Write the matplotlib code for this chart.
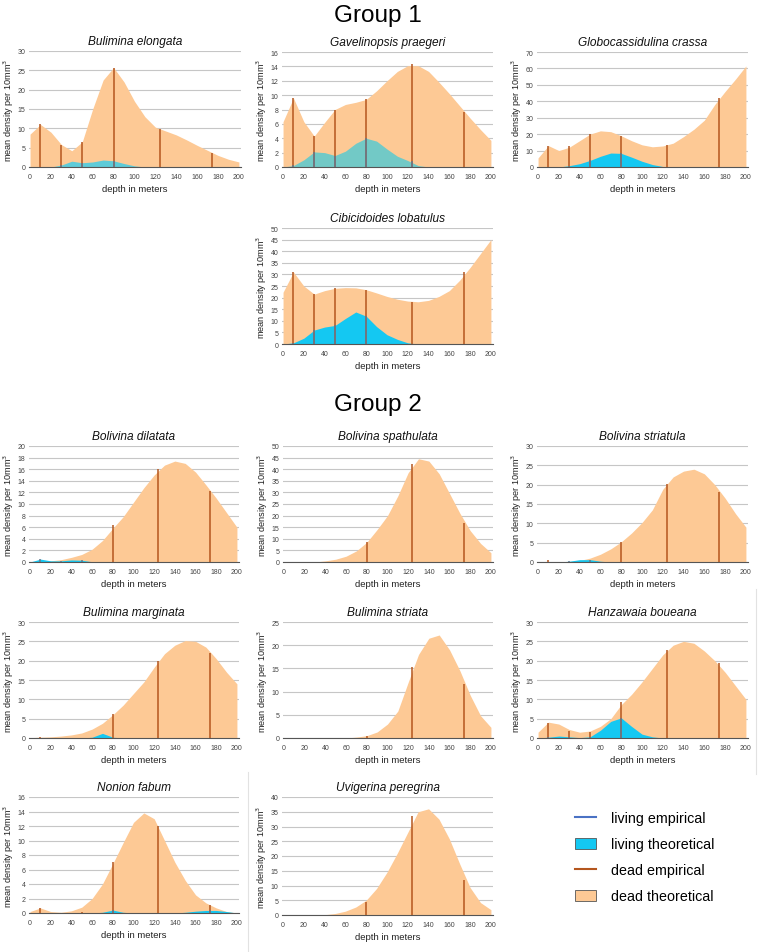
import matplotlib
matplotlib.use('Agg')
import matplotlib.pyplot as plt
from matplotlib.lines import Line2D
from matplotlib.patches import Patch

#################################
# Data
#################################
DEPTH = list(range(0, 201, 10))
SAMPLE_DEPTHS = [10, 30, 50, 80, 124, 174]

species = ['Bulimina elongata', 'Gavelinopsis praegeri', 'Globocassidulina crassa',
           'Cibicidoides lobatulus',
           'Bolivina dilatata', 'Bolivina spathulata', 'Bolivina striatula',
           'Bulimina marginata', 'Bulimina striata', 'Hanzawaia boueana',
           'Nonion fabum', 'Uvigerina peregrina']

y_max = [30, 16, 70, 50, 20, 50, 30, 30, 25, 30, 16, 40]
y_step = [5, 2, 10, 5, 2, 5, 5, 5, 5, 5, 2, 5]

# dead theoretical curves, one value per 10 m
elongata_dead = [8.5, 11, 9, 5.8, 4.2, 6.5, 15, 22.5, 25.7, 22, 17, 13, 10.3, 9.3, 8.3, 7, 5.6, 4.3, 3, 2, 1.3]
praegeri_dead = [6.3, 9.6, 6.3, 4.3, 6.2, 8, 8.7, 9, 9.4, 10.6, 12, 13.3, 14.1, 14.1, 13.3, 11.8, 10.2, 8.5, 6.8, 5.2, 3.7]
crassa_dead = [5.5, 13, 10, 12, 16, 20, 22, 21.5, 19, 16, 13.5, 12.3, 12.8, 14.5, 18.5, 23, 28.5, 38, 46, 53.5, 61.5]
lobatulus_dead = [22.3, 31, 25, 21.5, 23, 24, 24.3, 24.2, 23.4, 22, 20.5, 19.3, 18.5, 18.2, 18.8, 20.5, 23, 27.5, 33, 39, 45]
dilatata_dead = [0, 0.1, 0.2, 0.4, 0.8, 1.3, 2.2, 3.7, 5.8, 7.8, 10.3, 12.8, 15, 16.7, 17.4, 17, 15.5, 13.3, 11, 8.5, 6]
spathulata_dead = [0, 0, 0, 0, 0.5, 1.2, 2.5, 4.8, 8.5, 14, 20, 28.5, 38.5, 44.5, 43.5, 38, 29.5, 21, 13.5, 8, 4]
striatula_dead = [0, 0, 0, 0.1, 0.4, 1, 2, 3.4, 5.2, 7.5, 10.2, 13.5, 18.8, 22, 23.5, 24, 22.8, 20, 16.5, 12.5, 9]
marginata_dead = [0.1, 0.2, 0.3, 0.5, 0.8, 1.3, 2.3, 3.8, 6, 8.5, 11.5, 14.5, 18.3, 21.8, 24, 25.2, 25, 23.5, 20.5, 17, 14]
striata_dead = [0, 0, 0, 0, 0, 0, 0, 0.2, 0.5, 1.3, 3, 5.8, 12, 18, 21.5, 22.2, 19, 14.5, 9.2, 4.8, 2.3]
boueana_dead = [1.5, 4.1, 3.6, 2.2, 1.5, 1.8, 3, 5, 8.6, 11.3, 14.5, 18, 21.5, 24, 25, 24.5, 22.5, 20, 17, 13.5, 10]
fabum_dead = [0.2, 0.7, 0.2, 0.1, 0.3, 0.8, 2, 4, 6.8, 9.7, 12.5, 13.8, 13, 10, 7, 4.5, 2.5, 1.4, 0.7, 0.2, 0]
peregrina_dead = [0, 0, 0, 0, 0.1, 0.5, 1.3, 2.7, 5, 9, 14.5, 21, 28, 35, 36, 32.5, 25.8, 17.3, 9.3, 4.2, 1.8]

# living theoretical curves, one value per 10 m
elongata_living = [0, 0, 0, 0.5, 1.5, 1.1, 1.3, 1.8, 1.6, 0.9, 0.3, 0, 0, 0, 0, 0, 0, 0, 0, 0, 0]
praegeri_living = [0, 0.2, 1, 2.1, 2, 1.6, 2.2, 3.3, 4, 3.6, 2.5, 1.5, 0.9, 0.2, 0, 0, 0, 0, 0, 0, 0]
crassa_living = [0, 0, 0, 0.8, 2, 4, 6.5, 8.5, 8.3, 6, 3.5, 1.5, 0.3, 0, 0, 0, 0, 0, 0, 0, 0]
lobatulus_living = [0, 0.5, 2.5, 6, 7.3, 8, 11, 13.8, 12, 7.5, 4, 2, 0.5, 0, 0, 0, 0, 0, 0, 0, 0]
dilatata_living = [0, 0.5, 0.2, 0.2, 0.35, 0.3, 0.05, 0, 0, 0, 0, 0, 0, 0, 0, 0, 0, 0, 0, 0, 0]
spathulata_living = [0] * 21
striatula_living = [0, 0, 0, 0.2, 0.6, 0.6, 0.2, 0, 0, 0, 0, 0, 0, 0, 0, 0, 0, 0, 0, 0, 0]
marginata_living = [0, 0, 0, 0, 0, 0, 0.2, 1.2, 0.2, 0, 0, 0, 0, 0, 0, 0, 0, 0, 0, 0, 0]
striata_living = [0] * 21
boueana_living = [0, 0.2, 0.5, 0.3, 0.1, 0.3, 2, 4.3, 5.2, 3, 1, 0.3, 0, 0, 0, 0, 0, 0, 0, 0, 0]
fabum_living = [0, 0, 0, 0, 0, 0, 0, 0.1, 0.4, 0.1, 0, 0, 0, 0, 0, 0.1, 0.25, 0.35, 0.35, 0.2, 0]
peregrina_living = [0] * 21

# empirical values at the sample depths
elongata_dead_emp = [11, 5.7, 6.5, 25.7, 9.7, 3.6]
praegeri_dead_emp = [9.6, 4.3, 8, 9.4, 14.3, 7.7]
crassa_dead_emp = [13, 12.5, 20, 19, 13.5, 42]
lobatulus_dead_emp = [31, 21.5, 24, 23.4, 18.2, 31]
dilatata_dead_emp = [0, 0, 0, 6.3, 16, 12.2]
spathulata_dead_emp = [0, 0, 0, 8.5, 42.3, 17]
striatula_dead_emp = [0.4, 0, 0, 5.2, 20.2, 18.2]
marginata_dead_emp = [0.3, 0, 0, 6.3, 20, 22]
striata_dead_emp = [0, 0, 0, 0.5, 15.3, 11.7]
boueana_dead_emp = [4, 1.9, 1.5, 9.2, 22.8, 19.3]
fabum_dead_emp = [0.7, 0, 0.2, 7, 12, 1.1]
peregrina_dead_emp = [0, 0, 0, 4.3, 33.5, 12]

elongata_living_emp = [0, 0.4, 1.1, 1.6, 0, 0]
praegeri_living_emp = [0.3, 2.1, 1.6, 4, 0.9, 0]
crassa_living_emp = [0, 0.5, 4, 8.3, 0, 0]
lobatulus_living_emp = [0.5, 6, 8, 12, 0, 0]
dilatata_living_emp = [0.5, 0.2, 0.3, 0, 0, 0]
spathulata_living_emp = [0] * 6
striatula_living_emp = [0, 0.3, 0.6, 0, 0, 0]
marginata_living_emp = [0] * 6
striata_living_emp = [0] * 6
boueana_living_emp = [0.2, 0.3, 0.3, 5.2, 0, 0]
fabum_living_emp = [0, 0, 0, 0.4, 0, 0.35]
peregrina_living_emp = [0] * 6

dead_curves = [elongata_dead, praegeri_dead, crassa_dead, lobatulus_dead, dilatata_dead,
               spathulata_dead, striatula_dead, marginata_dead, striata_dead, boueana_dead,
               fabum_dead, peregrina_dead]
living_curves = [elongata_living, praegeri_living, crassa_living, lobatulus_living, dilatata_living,
                 spathulata_living, striatula_living, marginata_living, striata_living,
                 boueana_living, fabum_living, peregrina_living]
dead_emps = [elongata_dead_emp, praegeri_dead_emp, crassa_dead_emp, lobatulus_dead_emp,
             dilatata_dead_emp, spathulata_dead_emp, striatula_dead_emp, marginata_dead_emp,
             striata_dead_emp, boueana_dead_emp, fabum_dead_emp, peregrina_dead_emp]
living_emps = [elongata_living_emp, praegeri_living_emp, crassa_living_emp, lobatulus_living_emp,
               dilatata_living_emp, spathulata_living_emp, striatula_living_emp,
               marginata_living_emp, striata_living_emp, boueana_living_emp, fabum_living_emp,
               peregrina_living_emp]

#################################
# Layout / style
#################################
W, H = 758, 953
# panel boxes in pixels: left, right, top, bottom
boxes = [(29, 241, 52, 168), (282, 493, 53, 168), (537, 748, 53, 168),
         (282, 493, 229, 345),
         (29, 239, 447, 563), (283, 493, 447, 563), (537, 748, 447, 563),
         (29, 239, 623, 739), (283, 493, 623, 739), (537, 748, 623, 739),
         (29, 239, 798, 914), (282, 493, 798, 916)]

DEAD_FILL = '#fdc995'
DEAD_LINE = '#b4561e'
LIVING_FILL = '#14c8f2'
LIVING_LINE = '#65788f'
living_fill_colors = ['#5ecbd8', '#72c9c6'] + [LIVING_FILL] * 10

plt.rcParams['font.family'] = ['Liberation Sans', 'DejaVu Sans']

fig = plt.figure(figsize=(W / 100, H / 100), dpi=100)

for i in range(len(species)):
    l, r, t, b = boxes[i]
    ax = fig.add_axes([l / W, 1 - b / H, (r - l) / W, (b - t) / H])
    ax.set_axisbelow(True)
    ax.fill_between(DEPTH, dead_curves[i], 0, color=DEAD_FILL, lw=0, zorder=1)
    ax.fill_between(DEPTH, living_curves[i], 0, color=living_fill_colors[i], lw=0, zorder=2)
    ax.vlines(SAMPLE_DEPTHS, 0, dead_emps[i], color=DEAD_LINE, lw=1.1, zorder=3)
    ax.vlines(SAMPLE_DEPTHS, 0, living_emps[i], color=LIVING_LINE, lw=1.1, zorder=4)

    ax.set_xlim(-1, 202)
    ax.set_ylim(0, y_max[i])
    ax.set_xticks(range(0, 201, 20))
    ax.set_yticks(range(0, y_max[i] + 1, y_step[i]))
    ax.grid(axis='y', color='#c6c6c6', lw=0.8)
    for s in ['top', 'right', 'left']:
        ax.spines[s].set_visible(False)
    ax.spines['bottom'].set_color('#555555')
    ax.spines['bottom'].set_linewidth(0.8)
    ax.tick_params(length=0, labelsize=5, colors='#444444', pad=2.5)
    ax.tick_params(axis='x', pad=4)
    ax.set_title(species[i], fontsize=8.6, style='italic', pad=5, color='#111111')
    ax.set_xlabel('depth in meters', fontsize=6.8, labelpad=3, color='#222222')
    ax.set_ylabel('mean density per 10mm$^3$', fontsize=6.6, labelpad=1, color='#222222')

fig.text(378 / W, 1 - 16 / H, 'Group 1', fontsize=17.5, ha='center', va='center')
fig.text(378 / W, 1 - 405 / H, 'Group 2', fontsize=17.5, ha='center', va='center')

# thin separators from the original layout
fig.add_artist(Line2D([248 / W, 248 / W], [0, 1 - 773 / H], color='#e2e2e2', lw=0.8))
fig.add_artist(Line2D([756 / W, 756 / W], [1 - 590 / H, 1 - 775 / H], color='#e2e2e2', lw=0.8))

handles = [Line2D([0], [0], color='#4a72c4', lw=1.5),
           Patch(facecolor=LIVING_FILL, edgecolor='#555555', lw=0.6),
           Line2D([0], [0], color=DEAD_LINE, lw=1.5),
           Patch(facecolor=DEAD_FILL, edgecolor='#555555', lw=0.6)]
labels = ['living empirical', 'living theoretical', 'dead empirical', 'dead theoretical']
fig.legend(handles, labels, loc='upper left', bbox_to_anchor=(562 / W, 1 - 799 / H),
           frameon=False, fontsize=10.3, handlelength=1.5, handleheight=0.8,
           handletextpad=1.0, labelspacing=0.85)

plt.savefig('out.png', dpi=100)
